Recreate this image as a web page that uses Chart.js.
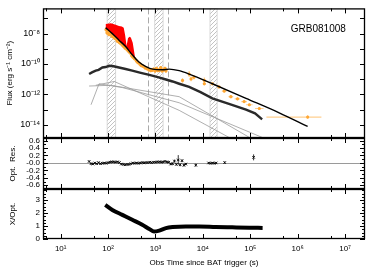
<!DOCTYPE html>
<html>
<head>
<meta charset="utf-8">
<script src="https://cdn.jsdelivr.net/npm/chart.js@4"></script>
<style>
  html, body { margin: 0; padding: 0; background: #fff; }
  #wrap { position: relative; width: 374px; height: 272px; }
  .layer { position: absolute; left: 0; top: 0; width: 374px; height: 272px; }
</style>
</head>
<body>
<div id="wrap">
  <div class="layer"><canvas id="fluxChart"></canvas></div>
  <div class="layer"><canvas id="resChart"></canvas></div>
  <div class="layer"><canvas id="ratioChart"></canvas></div>
</div>
<script>
// ====== DATA (all times as log10(s), fluxes as log10(erg s^-1 cm^-2)) ======
const xLogRange = [0.627, 7.42];
const xDecades = [1, 2, 3, 4, 5, 6, 7];
const fluxLogRange = [-14.87, -6.34];
const fluxDecades = [-14, -13, -12, -11, -10, -9, -8, -7];
const resRange = [-0.70, 0.67];
const resTicks = [-0.6, -0.4, -0.2, 0, 0.2, 0.4, 0.6];
const ratioRange = [0, 3.85];
const ratioTicks = [0, 1, 2, 3];

// hatched intervals and dashed markers
const bandLogT = [[1.98, 2.16], [2.985, 3.16], [4.15, 4.30]];
const dashLogT = [2.84, 3.27];

// optical model (black)
const modelLogT = [1.95, 2.09, 2.23, 2.37, 2.51, 2.65, 2.80, 2.94, 3.15, 3.29, 3.50, 3.71, 4.20, 4.91, 5.61, 6.21];
const modelLogF = [-7.62, -8.00, -8.43, -8.85, -9.39, -9.87, -10.17, -10.34, -10.38, -10.34, -10.44, -10.66, -11.30, -12.26, -13.21, -14.11];

// red band
const redLogT = [1.94, 1.95, 2.06, 2.16, 2.23, 2.29, 2.33, 2.36, 2.39, 2.42, 2.45, 2.48, 2.52, 2.55, 2.57];
const redHigh = [-7.60, -7.36, -7.32, -7.41, -7.50, -7.53, -7.62, -8.10, -8.82, -8.30, -8.21, -8.25, -8.60, -9.20, -9.60];
const redLow  = [-7.60, -7.64, -7.92, -8.22, -8.45, -8.62, -8.74, -8.82, -8.90, -9.00, -9.12, -9.25, -9.40, -9.55, -9.62];

// optical data, early dense part
const optEarlyLogT = [1.96, 1.98, 2.00, 2.02, 2.05, 2.08, 2.11, 2.14, 2.17, 2.20, 2.24, 2.27, 2.30, 2.33, 2.36, 2.40, 2.43, 2.46, 2.50, 2.53, 2.56, 2.60, 2.63, 2.67, 2.70, 2.74, 2.78, 2.82, 2.86, 2.90, 2.93, 2.96, 2.99, 3.02, 3.05, 3.08, 3.11, 3.14, 3.17, 3.20, 3.22];
const optEarlyLogF = [-7.75, -7.95, -7.85, -8.05, -8.00, -8.15, -8.20, -8.30, -8.35, -8.50, -8.58, -8.65, -8.75, -8.85, -8.95, -9.05, -9.15, -9.25, -9.45, -9.55, -9.65, -9.80, -9.90, -10.00, -10.10, -10.15, -10.25, -10.30, -10.38, -10.42, -10.40, -10.35, -10.45, -10.30, -10.42, -10.40, -10.25, -10.45, -10.38, -10.30, -10.45];
const optEarlyErr = 0.12;

// optical data, late sparse part
const optLateLogT = [3.57, 3.71, 3.75, 3.81, 4.03, 4.03, 4.20, 4.34, 4.45, 4.59, 4.73, 4.87, 4.98, 5.19, 6.21];
const optLateLogF = [-11.08, -10.66, -10.98, -10.87, -11.08, -11.30, -11.30, -11.51, -11.78, -12.15, -12.29, -12.47, -12.68, -12.93, -13.49];
const optLateErr  = [0.15, 0.20, 0.15, 0.15, 0.20, 0.12, 0.12, 0.10, 0.10, 0.10, 0.10, 0.10, 0.10, 0.10, 0.12];
const optLateTLo  = [0.02, 0.02, 0.02, 0.02, 0.03, 0.03, 0.04, 0.04, 0.05, 0.05, 0.06, 0.06, 0.07, 0.09, 0.87];
const optLateTHi  = [0.02, 0.02, 0.02, 0.02, 0.03, 0.03, 0.04, 0.04, 0.05, 0.05, 0.06, 0.06, 0.07, 0.09, 0.29];

// lower dark curve
const xrtLogT = [1.60, 1.66, 1.74, 1.80, 1.88, 1.95, 2.02, 2.09, 2.16, 2.23, 2.37, 2.51, 2.69, 2.87, 3.05, 3.22, 3.36, 3.50, 3.71, 3.95, 4.20, 4.55, 4.91, 5.10, 5.25];
const xrtLogF = [-10.66, -10.55, -10.44, -10.38, -10.23, -10.20, -10.12, -10.13, -10.18, -10.23, -10.33, -10.44, -10.58, -10.72, -10.86, -11.02, -11.15, -11.30, -11.51, -11.85, -12.26, -12.62, -13.00, -13.25, -13.64];

// thin grey components
const comp1LogT = [1.60, 2.05, 3.50, 4.98];
const comp1LogF = [-11.45, -11.40, -12.15, -14.83];
const comp2LogT = [1.64, 1.81, 2.30, 3.50, 5.25];
const comp2LogF = [-12.68, -11.30, -11.55, -12.55, -14.83];
const comp3LogT = [1.74, 2.13, 3.50, 4.55];
const comp3LogF = [-11.40, -11.15, -13.05, -14.83];

// optical residuals
const resLogT = [1.60, 1.64, 1.68, 1.72, 1.76, 1.80, 1.84, 1.88, 1.92, 1.96, 2.00, 2.04, 2.08, 2.12, 2.16, 2.20, 2.24, 2.28, 2.32, 2.36, 2.40, 2.44, 2.48, 2.52, 2.56, 2.60, 2.64, 2.68, 2.72, 2.76, 2.80, 2.84, 2.88, 2.92, 2.96, 3.00, 3.04, 3.08, 3.12, 3.16, 3.20, 3.24, 3.28, 3.32, 3.36, 3.40, 3.44, 3.48, 3.52, 3.56, 3.60, 3.64, 3.85, 4.12, 4.16, 4.20, 4.24, 4.28, 4.46, 5.07];
const resVal  = [0.04, -0.02, -0.03, 0.00, -0.02, 0.01, -0.02, -0.01, 0.00, -0.01, 0.01, 0.02, 0.03, 0.03, 0.02, 0.03, 0.01, -0.03, -0.04, -0.05, -0.04, -0.04, -0.02, 0.00, -0.01, 0.00, -0.01, 0.00, 0.01, 0.00, 0.01, 0.01, 0.02, 0.01, 0.02, 0.02, 0.03, 0.03, 0.02, 0.03, 0.04, 0.03, 0.02, -0.03, -0.02, 0.05, -0.04, 0.08, -0.05, 0.06, -0.06, -0.03, -0.06, 0.00, -0.01, 0.00, -0.01, 0.00, 0.01, 0.15];
const resErr  = [0.02, 0.02, 0.02, 0.02, 0.02, 0.02, 0.02, 0.02, 0.02, 0.02, 0.02, 0.02, 0.02, 0.02, 0.02, 0.02, 0.02, 0.02, 0.02, 0.02, 0.02, 0.02, 0.02, 0.02, 0.02, 0.02, 0.02, 0.02, 0.02, 0.02, 0.02, 0.02, 0.02, 0.02, 0.02, 0.02, 0.02, 0.02, 0.02, 0.02, 0.02, 0.02, 0.02, 0.03, 0.03, 0.04, 0.03, 0.13, 0.04, 0.04, 0.04, 0.03, 0.04, 0.02, 0.02, 0.02, 0.02, 0.02, 0.03, 0.08];

// X/Opt ratio
const ratioLogT = [1.94, 2.09, 2.30, 2.51, 2.72, 2.87, 2.97, 3.08, 3.22, 3.36, 3.64, 3.92, 4.27, 4.62, 4.98, 5.26];
const ratioVal  = [2.62, 2.24, 1.86, 1.48, 1.10, 0.77, 0.58, 0.65, 0.84, 0.92, 0.97, 0.97, 0.93, 0.90, 0.87, 0.85];

// ====== HELPERS ======
const FONT = "'Liberation Sans', Arial, sans-serif";
const SUP = { '-': '\u207B', '0': '\u2070', '1': '\u00B9', '2': '\u00B2', '3': '\u00B3', '4': '\u2074', '5': '\u2075', '6': '\u2076', '7': '\u2077', '8': '\u2078', '9': '\u2079' };
const pow10 = e => '10' + String(e).split('').map(c => SUP[c]).join('');
const logPts = (lt, lf) => lt.map((t, i) => ({ x: 10 ** t, y: 10 ** lf[i] }));
const linPts = (lt, v) => lt.map((t, i) => ({ x: 10 ** t, y: v[i] }));

// hatched bands, dashed lines, frame with inward ticks
const frame = {
  id: 'frame',
  beforeDatasetsDraw(chart, args, o) {
    const { ctx, chartArea: a, scales: { x, y } } = chart;
    ctx.save();
    ctx.beginPath();
    ctx.rect(a.left, a.top, a.right - a.left, a.bottom - a.top);
    ctx.clip();
    if (o.bands) {
      const c = document.createElement('canvas');
      c.width = c.height = 4;
      const g = c.getContext('2d');
      g.strokeStyle = '#b4b4b4';
      g.lineWidth = 0.8;
      g.beginPath();
      g.moveTo(0, 4); g.lineTo(4, 0);
      g.moveTo(-1, 1); g.lineTo(1, -1);
      g.moveTo(3, 5); g.lineTo(5, 3);
      g.stroke();
      ctx.fillStyle = ctx.createPattern(c, 'repeat');
      ctx.strokeStyle = '#d0d0d0';
      ctx.lineWidth = 0.8;
      o.bands.forEach(b => {
        const x0 = x.getPixelForValue(10 ** b[0]);
        const x1 = x.getPixelForValue(10 ** b[1]);
        ctx.fillRect(x0, a.top, x1 - x0, a.bottom - a.top);
        ctx.strokeRect(x0, a.top, x1 - x0, a.bottom - a.top);
      });
    }
    if (o.dashed) {
      ctx.strokeStyle = '#aaaaaa';
      ctx.lineWidth = 1;
      ctx.setLineDash([6, 3]);
      ctx.beginPath();
      o.dashed.forEach(t => {
        const px = Math.round(x.getPixelForValue(10 ** t)) + 0.5;
        ctx.moveTo(px, a.top);
        ctx.lineTo(px, a.bottom);
      });
      ctx.stroke();
      ctx.setLineDash([]);
    }
    if (o.zeroLine) {
      const py = Math.round(y.getPixelForValue(0)) + 0.5;
      ctx.strokeStyle = '#9a9a9a';
      ctx.lineWidth = 1;
      ctx.beginPath();
      ctx.moveTo(a.left, py);
      ctx.lineTo(a.right, py);
      ctx.stroke();
    }
    ctx.restore();
  },
  afterDraw(chart, args, o) {
    const { ctx, chartArea: a, scales: { x, y } } = chart;
    ctx.save();
    ctx.strokeStyle = '#000';
    ctx.lineWidth = 1;
    ctx.beginPath();
    const xt = (px, len) => {
      ctx.moveTo(px, a.bottom); ctx.lineTo(px, a.bottom - len);
      ctx.moveTo(px, a.top); ctx.lineTo(px, a.top + len);
    };
    const yt = (py, len) => {
      ctx.moveTo(a.left, py); ctx.lineTo(a.left + len, py);
      ctx.moveTo(a.right, py); ctx.lineTo(a.right - len, py);
    };
    x.ticks.forEach(t => xt(Math.round(x.getPixelForValue(t.value)) + 0.5, 5));
    xDecades.forEach(e => xt(Math.round(x.getPixelForValue(5 * 10 ** e)) + 0.5, 3));
    xt(Math.round(x.getPixelForValue(5)) + 0.5, 3);
    y.ticks.forEach(t => yt(Math.round(y.getPixelForValue(t.value)) + 0.5, 5));
    if (o.yMinorStep) {
      for (let v = Math.ceil(y.min / o.yMinorStep) * o.yMinorStep; v <= y.max; v += o.yMinorStep) {
        yt(Math.round(y.getPixelForValue(v)) + 0.5, 3);
      }
    }
    ctx.stroke();
    ctx.lineWidth = 1.3;
    ctx.strokeRect(a.left + 0.5, a.top + 0.5, a.right - a.left - 1, a.bottom - a.top - 1);
    if (o.label) {
      ctx.fillStyle = '#000';
      ctx.font = '10px ' + FONT;
      ctx.textAlign = 'center';
      ctx.textBaseline = 'middle';
      ctx.fillText(o.label, a.left + (a.right - a.left) * 0.855, a.top + 21);
    }
    ctx.restore();
  }
};

// error bars stored on the points as yLo/yHi/xLo/xHi
const errBars = {
  id: 'errBars',
  beforeDatasetDraw(chart, args) {
    const ds = chart.data.datasets[args.index];
    if (!ds.errColor) return;
    const { ctx, scales: { x, y } } = chart;
    ctx.save();
    ctx.strokeStyle = ds.errColor;
    ctx.lineWidth = ds.errWidth || 1;
    ds.data.forEach(p => {
      const px = x.getPixelForValue(p.x);
      const py = y.getPixelForValue(p.y);
      ctx.beginPath();
      if (p.yLo !== undefined) {
        ctx.moveTo(px, y.getPixelForValue(p.yLo));
        ctx.lineTo(px, y.getPixelForValue(p.yHi));
      }
      if (p.xLo !== undefined) {
        ctx.moveTo(x.getPixelForValue(p.xLo), py);
        ctx.lineTo(x.getPixelForValue(p.xHi), py);
      }
      ctx.stroke();
    });
    ctx.restore();
  }
};

function xAxis(withLabels) {
  return {
    type: 'logarithmic',
    min: 10 ** xLogRange[0],
    max: 10 ** xLogRange[1],
    afterBuildTicks: s => { s.ticks = xDecades.map(e => ({ value: 10 ** e })); },
    afterFit: s => { s.height = withLabels ? 33 : 0; },
    grid: { display: false, drawTicks: false },
    border: { display: false },
    ticks: {
      display: withLabels, autoSkip: false, maxRotation: 0, padding: 5,
      color: '#000', font: { family: FONT, size: 8 },
      callback: v => pow10(Math.round(Math.log10(v)))
    },
    title: {
      display: withLabels, text: 'Obs Time since BAT trigger (s)', color: '#000',
      font: { family: FONT, size: 8 }, padding: { top: 0, bottom: 4 }
    }
  };
}

function yTitle(text, pad) {
  return { display: true, text, color: '#000', font: { family: FONT, size: 8 }, padding: { top: pad, bottom: 0 } };
}

function baseOptions(padTop, padBottom, extraPlugins) {
  return {
    responsive: true,
    maintainAspectRatio: false,
    animation: false,
    devicePixelRatio: 1,
    layout: { padding: { top: padTop, bottom: padBottom, left: 0, right: 9 } },
    plugins: Object.assign({ legend: { display: false }, tooltip: { enabled: false } }, extraPlugins)
  };
}

// ====== PANEL 1: flux light curves ======
const fluxOpts = baseOptions(4, 134, { frame: { bands: bandLogT, dashed: dashLogT, label: 'GRB081008' } });
fluxOpts.scales = {
  x: xAxis(false),
  y: {
    type: 'logarithmic',
    min: 10 ** fluxLogRange[0],
    max: 10 ** fluxLogRange[1],
    afterBuildTicks: s => { s.ticks = fluxDecades.map(e => ({ value: 10 ** e })); },
    afterFit: s => { s.width = 43; },
    grid: { display: false, drawTicks: false },
    border: { display: false },
    ticks: {
      autoSkip: false, padding: 3, color: '#000', font: { family: FONT, size: 9 },
      callback: v => {
        const e = Math.round(Math.log10(v));
        return e % 2 === 0 ? pow10(e) : '';
      }
    },
    title: yTitle('Flux (erg s\u207B\u00B9 cm\u207B\u00B2)', 5)
  }
};

new Chart(document.getElementById('fluxChart'), {
  type: 'line',
  data: {
    datasets: [
      { data: logPts(modelLogT, modelLogF), borderColor: '#000', borderWidth: 1.4, pointRadius: 0, cubicInterpolationMode: 'monotone' },
      { data: logPts(redLogT, redHigh), borderWidth: 0, borderColor: 'rgba(0,0,0,0)', pointRadius: 0, backgroundColor: '#ff0000', fill: '+1' },
      { data: logPts(redLogT, redLow), borderWidth: 0, borderColor: 'rgba(0,0,0,0)', pointRadius: 0, fill: false },
      {
        data: optLateLogT.map((t, i) => ({
          x: 10 ** t, y: 10 ** optLateLogF[i],
          yLo: 10 ** (optLateLogF[i] - optLateErr[i]), yHi: 10 ** (optLateLogF[i] + optLateErr[i]),
          xLo: 10 ** (t - optLateTLo[i]), xHi: 10 ** (t + optLateTHi[i])
        })),
        showLine: false, pointRadius: 1.6, pointBorderWidth: 0, pointBackgroundColor: '#ffa733',
        errColor: 'rgba(255,167,51,0.55)', errWidth: 1.2
      },
      {
        data: optEarlyLogT.map((t, i) => ({
          x: 10 ** t, y: 10 ** optEarlyLogF[i],
          yLo: 10 ** (optEarlyLogF[i] - optEarlyErr), yHi: 10 ** (optEarlyLogF[i] + optEarlyErr)
        })),
        showLine: false, pointRadius: 1.8, pointBorderWidth: 0, pointBackgroundColor: '#ffa733',
        errColor: '#ffc070', errWidth: 1.2
      },
      { data: logPts(xrtLogT, xrtLogF), borderColor: '#2a2a2a', borderWidth: 2.4, pointRadius: 0 },
      { data: logPts(comp1LogT, comp1LogF), borderColor: '#9a9a9a', borderWidth: 0.8, pointRadius: 0 },
      { data: logPts(comp2LogT, comp2LogF), borderColor: '#9a9a9a', borderWidth: 0.8, pointRadius: 0 },
      { data: logPts(comp3LogT, comp3LogF), borderColor: '#9a9a9a', borderWidth: 0.8, pointRadius: 0 }
    ]
  },
  options: fluxOpts,
  plugins: [frame, errBars]
});

// ====== PANEL 2: optical residuals ======
const resOpts = baseOptions(138, 83, { frame: { zeroLine: true, yMinorStep: 0.1 } });
resOpts.scales = {
  x: xAxis(false),
  y: {
    type: 'linear',
    min: resRange[0],
    max: resRange[1],
    afterBuildTicks: s => { s.ticks = resTicks.map(v => ({ value: v })); },
    afterFit: s => { s.width = 43; },
    grid: { display: false, drawTicks: false },
    border: { display: false },
    ticks: {
      autoSkip: false, padding: 3, color: '#000', font: { family: FONT, size: 8 },
      callback: v => (Math.abs(v) < 1e-9 ? '-0.0' : v.toFixed(1))
    },
    title: yTitle('Opt.  Res.', 8)
  }
};

new Chart(document.getElementById('resChart'), {
  type: 'line',
  data: {
    datasets: [{
      data: resLogT.map((t, i) => ({ x: 10 ** t, y: resVal[i], yLo: resVal[i] - resErr[i], yHi: resVal[i] + resErr[i] })),
      showLine: false, pointStyle: 'crossRot', pointRadius: 1.8, pointBorderColor: '#000', pointBorderWidth: 0.9,
      errColor: '#000', errWidth: 0.8
    }]
  },
  options: resOpts,
  plugins: [frame, errBars]
});

// ====== PANEL 3: X/Opt ratio ======
const ratioOpts = baseOptions(189, 0, { frame: { yMinorStep: 0.25 } });
ratioOpts.scales = {
  x: xAxis(true),
  y: {
    type: 'linear',
    min: ratioRange[0],
    max: ratioRange[1],
    afterBuildTicks: s => { s.ticks = ratioTicks.map(v => ({ value: v })); },
    afterFit: s => { s.width = 43; },
    grid: { display: false, drawTicks: false },
    border: { display: false },
    ticks: { autoSkip: false, padding: 3, color: '#000', font: { family: FONT, size: 8 } },
    title: yTitle('X/Opt.', 8)
  }
};

new Chart(document.getElementById('ratioChart'), {
  type: 'line',
  data: {
    datasets: [{ data: linPts(ratioLogT, ratioVal), borderColor: '#000', borderWidth: 4, pointRadius: 0, cubicInterpolationMode: 'monotone' }]
  },
  options: ratioOpts,
  plugins: [frame]
});
</script>
</body>
</html>
